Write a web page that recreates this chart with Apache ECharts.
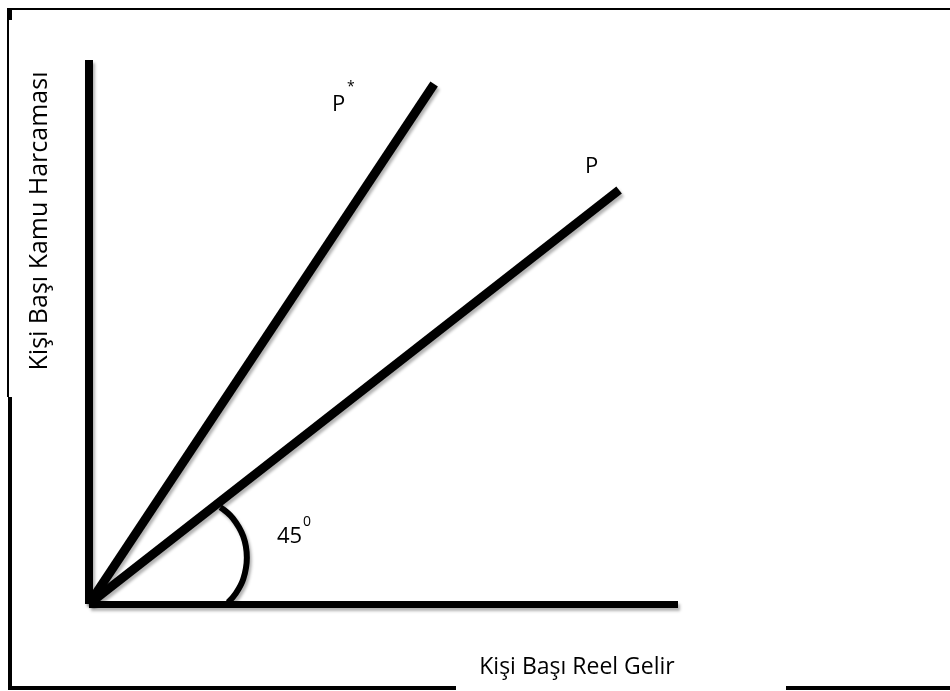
<!DOCTYPE html>
<html lang="tr">

<head>
    <meta charset="UTF-8">
    <title>Kamu Harcamasi</title>
    <script src="https://cdn.jsdelivr.net/npm/echarts@6/dist/echarts.min.js"></script>
    <style>
        html, body { margin: 0; padding: 0; background: #fff; }
    </style>
</head>

<body>
    <div id="main" style="width: 950px;height:691px;"></div>

    <script type="text/javascript">
        // veriler (eksen birimleri 0-100)
        var pStarLine = [[0, 0], [58.6, 95.6]];
        var pLine = [[0, 0], [90.0, 76.1]];
        var angleArc = [[22.3, 17.8], [24.4, 15.8], [26.2, 12.4], [26.8, 8.5], [26.2, 4.6], [24.9, 1.9], [23.6, 0.3]];
        var xRange = [0, 100];
        var yRange = [0, 100];

        var fontFam = '"Open Sans", "Noto Sans", sans-serif';
        var shadow = {
            shadowColor: 'rgba(0,0,0,0.3)',
            shadowBlur: 3,
            shadowOffsetX: 2,
            shadowOffsetY: 3
        };

        var myChart = echarts.init(document.getElementById('main'));

        var option = {
            backgroundColor: '#fff',
            animation: false,
            grid: {
                left: 89,
                top: 60,
                right: 272,
                bottom: 87
            },
            xAxis: {
                type: 'value',
                min: xRange[0],
                max: xRange[1],
                axisLine: {
                    show: true,
                    lineStyle: Object.assign({ color: '#000', width: 7, cap: 'butt' }, shadow)
                },
                axisTick: { show: false },
                axisLabel: { show: false },
                splitLine: { show: false }
            },
            yAxis: {
                type: 'value',
                min: yRange[0],
                max: yRange[1],
                axisLine: {
                    show: true,
                    lineStyle: Object.assign({ color: '#000', width: 8, cap: 'butt' }, shadow)
                },
                axisTick: { show: false },
                axisLabel: { show: false },
                splitLine: { show: false }
            },
            series: [{
                    name: 'P*',
                    type: 'line',
                    data: pStarLine,
                    symbol: 'none',
                    lineStyle: Object.assign({ color: '#000', width: 9, cap: 'butt' }, shadow)
                },
                {
                    name: 'P',
                    type: 'line',
                    data: pLine,
                    symbol: 'none',
                    lineStyle: Object.assign({ color: '#000', width: 9, cap: 'butt' }, shadow)
                },
                {
                    name: 'aci',
                    type: 'line',
                    data: angleArc,
                    symbol: 'none',
                    smooth: 0.4,
                    lineStyle: Object.assign({ color: '#000', width: 6 }, shadow)
                }
            ],
            graphic: [
                // cerceve
                { type: 'rect', shape: { x: 7, y: 8, width: 943, height: 2 }, style: { fill: '#000' } },
                { type: 'rect', shape: { x: 7, y: 8, width: 2, height: 389 }, style: { fill: '#000' } },
                { type: 'rect', shape: { x: 7, y: 8, width: 5, height: 12 }, style: { fill: '#000' } },
                { type: 'rect', shape: { x: 8, y: 397, width: 4, height: 293 }, style: { fill: '#000' } },
                { type: 'rect', shape: { x: 8, y: 686, width: 448, height: 4 }, style: { fill: '#000' } },
                { type: 'rect', shape: { x: 786, y: 686, width: 164, height: 4 }, style: { fill: '#000' } },
                // yazilar
                {
                    type: 'text', x: 40, y: 221, rotation: Math.PI / 2,
                    style: { text: 'Kişi Başı Kamu Harcaması', font: '25px ' + fontFam, fill: '#000', align: 'center', verticalAlign: 'middle' }
                },
                {
                    type: 'text', x: 577, y: 667,
                    style: { text: 'Kişi Başı Reel Gelir', font: '23px ' + fontFam, fill: '#000', align: 'center', verticalAlign: 'middle' }
                },
                {
                    type: 'text', x: 332, y: 105,
                    style: { text: 'P', font: '22px ' + fontFam, fill: '#000', verticalAlign: 'middle' }
                },
                {
                    type: 'text', x: 347, y: 87,
                    style: { text: '*', font: '14px ' + fontFam, fill: '#000', verticalAlign: 'middle' }
                },
                {
                    type: 'text', x: 585, y: 167,
                    style: { text: 'P', font: '22px ' + fontFam, fill: '#000', verticalAlign: 'middle' }
                },
                {
                    type: 'text', x: 277, y: 537,
                    style: { text: '45', font: '22px ' + fontFam, fill: '#000', verticalAlign: 'middle' }
                },
                {
                    type: 'text', x: 303, y: 522,
                    style: { text: '0', font: '14px ' + fontFam, fill: '#000', verticalAlign: 'middle' }
                }
            ]
        };

        myChart.setOption(option);
    </script>
</body>

</html>
